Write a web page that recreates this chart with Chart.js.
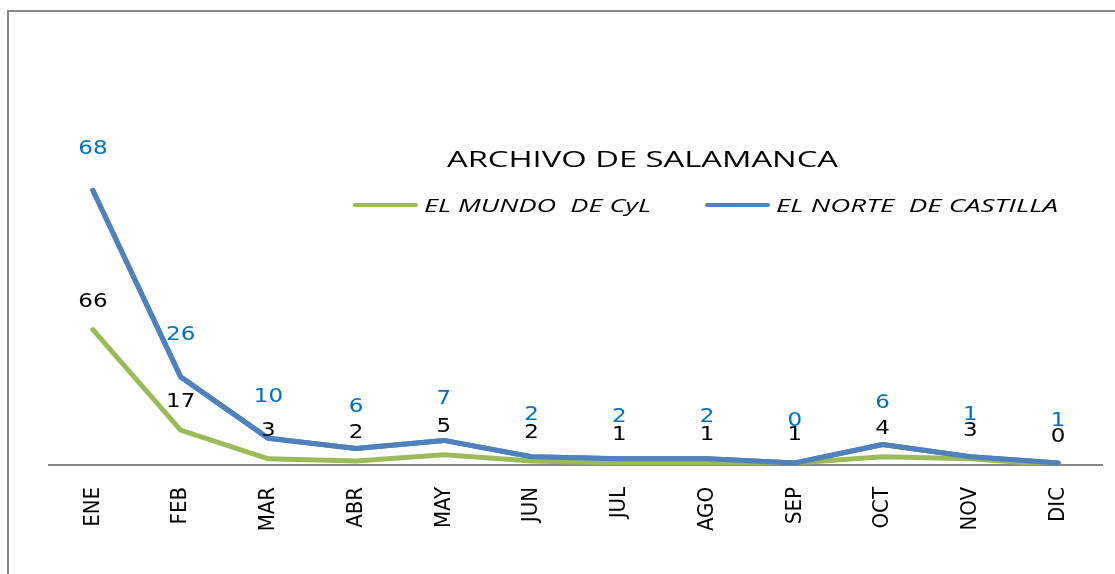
<!DOCTYPE html>
<html lang="es">
<head>
<meta charset="UTF-8">
<title>Archivo de Salamanca</title>
<script src="https://cdn.jsdelivr.net/npm/chart.js"></script>
<style>
    body { margin: 0; background: #fff; overflow: hidden; }
    #marco { position: absolute; left: 7px; top: 10px; width: 1200px; height: 700px; border: 2px solid #898989; }
    #caja { position: absolute; left: 0; top: 0; width: 1115px; height: 574px; }
</style>
</head>
<body>
<div id="marco"></div>
<div id="caja"><canvas id="grafico"></canvas></div>
<script>
    // Datos
    const meses = ['ENE', 'FEB', 'MAR', 'ABR', 'MAY', 'JUN', 'JUL', 'AGO', 'SEP', 'OCT', 'NOV', 'DIC'];
    const elMundo = [66, 17, 3, 2, 5, 2, 1, 1, 1, 4, 3, 0];
    const elNorte = [68, 26, 10, 6, 7, 2, 2, 2, 0, 6, 1, 1];
    const titulo = 'ARCHIVO DE SALAMANCA';
    const nombres = ['EL MUNDO  DE CyL', 'EL NORTE  DE CASTILLA'];

    const verde = '#9bbb59';
    const azul = '#4f81bd';

    // titulo y leyenda dentro del area del grafico
    const cabecera = {
        id: 'cabecera',
        afterDraw(chart) {
            const ctx = chart.ctx;
            ctx.save();
            ctx.fillStyle = '#000';
            ctx.textBaseline = 'middle';
            ctx.textAlign = 'left';

            // texto algo ensanchado, como en el original
            ctx.font = '22px "Open Sans"';
            let sx = 391 / ctx.measureText(titulo).width;
            ctx.save();
            ctx.translate(447, 161);
            ctx.scale(sx, 1);
            ctx.fillText(titulo, 0, 0);
            ctx.restore();

            ctx.font = 'italic 18px "Open Sans"';
            const items = [[355, verde, nombres[0], 227], [707, azul, nombres[1], 282]];
            items.forEach(([x, color, txt, ancho]) => {
                ctx.strokeStyle = color;
                ctx.lineWidth = 4;
                ctx.lineCap = 'round';
                ctx.beginPath();
                ctx.moveTo(x, 205);
                ctx.lineTo(x + 61, 205);
                ctx.stroke();
                ctx.save();
                ctx.translate(x + 69, 207);
                ctx.scale(ancho / ctx.measureText(txt).width, 1);
                ctx.fillText(txt, 0, 0);
                ctx.restore();
            });
            ctx.restore();
        }
    };

    // etiquetas de valores
    const etiquetas = {
        id: 'etiquetas',
        afterDatasetsDraw(chart) {
            // la serie azul por encima de la verde
            chart.getDatasetMeta(1).controller.draw();
            const ctx = chart.ctx;
            ctx.save();
            ctx.font = '20px "DejaVu Sans"';
            ctx.textAlign = 'center';
            ctx.textBaseline = 'middle';
            chart.data.datasets.forEach((ds, i) => {
                const meta = chart.getDatasetMeta(i);
                ctx.fillStyle = ds.colorEtiqueta;
                meta.data.forEach((pt, j) => {
                    ctx.save();
                    ctx.translate(pt.x, pt.y - ds.separacion);
                    ctx.scale(1.15, 1);
                    ctx.fillText(ds.data[j], 0, 0);
                    ctx.restore();
                });
            });
            ctx.restore();
        }
    };

    new Chart(document.getElementById('grafico'), {
        type: 'line',
        data: {
            labels: meses,
            datasets: [{
                label: nombres[0],
                data: elMundo,
                borderColor: verde,
                borderWidth: 5,
                pointRadius: 0,
                borderJoinStyle: 'round',
                borderCapStyle: 'round',
                colorEtiqueta: '#000',
                separacion: 28
            }, {
                label: nombres[1],
                data: elNorte,
                borderColor: azul,
                borderWidth: 5,
                pointRadius: 0,
                borderJoinStyle: 'round',
                borderCapStyle: 'round',
                colorEtiqueta: '#0070c0',
                separacion: 42
            }]
        },
        options: {
            responsive: true,
            maintainAspectRatio: false,
            animation: false,
            layout: { padding: { left: 49, right: 13, top: 137, bottom: 0 } },
            plugins: {
                legend: { display: false },
                tooltip: { enabled: false }
            },
            scales: {
                x: {
                    offset: true,
                    grid: { display: false, drawTicks: false },
                    border: { color: '#868686', width: 2 },
                    ticks: {
                        minRotation: 90,
                        maxRotation: 90,
                        padding: 22,
                        color: '#000',
                        font: { family: '"Liberation Sans Narrow", "DejaVu Sans Condensed", sans-serif', size: 22 }
                    },
                    afterFit(s) { s.height = 109; }
                },
                y: { display: false, stacked: true, min: 0, max: 160 }
            }
        },
        plugins: [etiquetas, cabecera]
    });
</script>
</body>
</html>
